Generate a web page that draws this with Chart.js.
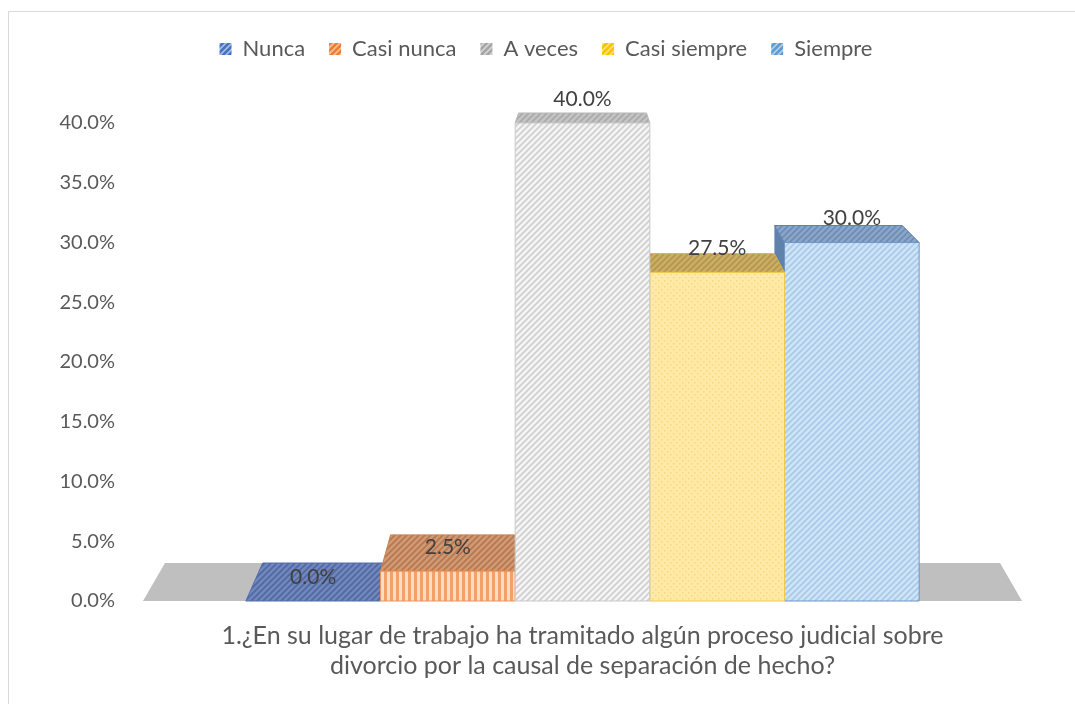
<!DOCTYPE html>
<html>
<head>
<meta charset="utf-8">
<script src="https://cdn.jsdelivr.net/npm/chart.js@4.4.1/dist/chart.umd.min.js"></script>
<style>
  html, body { margin: 0; padding: 0; background: #fff; overflow: hidden; }
  #wrap { position: relative; width: 1075px; height: 704px; }
  #frame { position: absolute; left: 8px; top: 11px; width: 1100px; height: 720px;
           border: 1px solid #d9d9d9; pointer-events: none; }
</style>
</head>
<body>
<div id="wrap">
  <canvas id="chart" width="1075" height="704"></canvas>
  <div id="frame"></div>
</div>
<script>
// Data
const categories = [[
  '1.¿En su lugar de trabajo ha tramitado algún proceso judicial sobre',
  'divorcio por la causal de separación de hecho?'
]];
const seriesNames = ['Nunca', 'Casi nunca', 'A veces', 'Casi siempre', 'Siempre'];
const seriesValues = [0.0, 2.5, 40.0, 27.5, 30.0];
const yTicks = [0, 5, 10, 15, 20, 25, 30, 35, 40];

// Styles (front / top / side / legend)
const frontStyle = [
  ['#7a93c6', '#4f6fae', 'diag'],
  ['#fbdcc6', '#f3a06a', 'vert'],
  ['#f4f4f4', '#cfcfcf', 'diag'],
  ['#ffe9a6', '#f7d97a', 'dots'],
  ['#cfe3f6', '#a8c9ea', 'diag']
];
const topStyle = [
  ['#7187bd', '#51689f', 'diag'],
  ['#d19a74', '#b5774f', 'diag'],
  ['#c4c4c4', '#a9a9a9', 'diag'],
  ['#c9ae6a', '#b59648', 'diag'],
  ['#8aa6c8', '#6d8cb3', 'diag']
];
const sideColors = ['#4f6fae', '#c9814f', '#b5b5b5', '#d9b240', '#5f82ad'];
const edgeColors = ['#4a67a3', '#e8955c', '#c9c9c9', '#f0c850', '#6f96c4'];
const legendColors = ['#4472c4', '#ed7d31', '#a5a5a5', '#ffc000', '#5b9bd5'];

const FONT = 'Lato';
const TEXT = '#595959';
const DEPTH = 38;   // floor depth in px
const KX = 0.05;    // horizontal perspective shrink
const KY = 0.0586;  // vertical perspective shrink

function makePattern(bg, fg, type) {
  const c = document.createElement('canvas');
  c.width = 6; c.height = 6;
  const g = c.getContext('2d');
  g.fillStyle = bg;
  g.fillRect(0, 0, 6, 6);
  g.strokeStyle = fg;
  g.fillStyle = fg;
  g.lineWidth = 1.6;
  if (type === 'diag') {
    g.beginPath();
    g.moveTo(-1, 7); g.lineTo(7, -1);
    g.moveTo(-1, 1); g.lineTo(1, -1);
    g.moveTo(5, 7); g.lineTo(7, 5);
    g.stroke();
  } else if (type === 'vert') {
    g.fillRect(0, 0, 3, 6);
  } else {
    g.fillRect(1, 1, 1.5, 1.5);
    g.fillRect(4, 4, 1.5, 1.5);
  }
  return g.createPattern(c, 'repeat');
}

const frontPatterns = frontStyle.map(s => makePattern(s[0], s[1], s[2]));
const topPatterns = topStyle.map(s => makePattern(s[0], s[1], s[2]));
const legendPatterns = legendColors.map(c => makePattern(c, '#ffffff88', 'diag'));

function poly(ctx, pts, fill, stroke) {
  ctx.beginPath();
  ctx.moveTo(pts[0][0], pts[0][1]);
  for (let i = 1; i < pts.length; i++) ctx.lineTo(pts[i][0], pts[i][1]);
  ctx.closePath();
  ctx.fillStyle = fill;
  ctx.fill();
  if (stroke) {
    ctx.strokeStyle = stroke;
    ctx.lineWidth = 1;
    ctx.stroke();
  }
}

// Draw 3D bars from the bar elements' positions
const bars3d = {
  id: 'bars3d',
  beforeDatasetsDraw(chart) {
    const ctx = chart.ctx;
    const area = chart.chartArea;
    const base = chart.scales.y.getPixelForValue(0);
    const vx = (area.left + area.right) / 2;
    const vy = base - DEPTH / KY;
    const back = (x, y) => [x + (vx - x) * KX, y + (vy - y) * KY];

    ctx.save();
    // floor
    poly(ctx, [[area.left, base], [area.right, base],
               back(area.right, base), back(area.left, base)], '#bfbfbf');

    const bars = chart.data.datasets.map((ds, i) => {
      const el = chart.getDatasetMeta(i).data[0];
      const p = el.getProps(['x', 'y', 'width'], true);
      return { i, x: p.x, y: p.y, xl: p.x - p.width / 2, xr: p.x + p.width / 2 };
    });
    const order = bars.slice().sort((a, b) => Math.abs(b.x - vx) - Math.abs(a.x - vx));

    order.forEach(b => {
      const i = b.i;
      // side face
      if (b.xr < vx) {
        poly(ctx, [[b.xr, b.y], back(b.xr, b.y), back(b.xr, base), [b.xr, base]], sideColors[i]);
      } else if (b.xl > vx) {
        poly(ctx, [[b.xl, b.y], back(b.xl, b.y), back(b.xl, base), [b.xl, base]], sideColors[i]);
      }
      // top face
      poly(ctx, [[b.xl, b.y], [b.xr, b.y], back(b.xr, b.y), back(b.xl, b.y)],
           topPatterns[i], sideColors[i]);
      // front face
      if (base - b.y > 0.5) {
        poly(ctx, [[b.xl, b.y], [b.xr, b.y], [b.xr, base], [b.xl, base]],
             frontPatterns[i], edgeColors[i]);
      }
    });

    // value labels
    ctx.font = '21px ' + FONT;
    ctx.fillStyle = '#404040';
    ctx.textAlign = 'center';
    ctx.textBaseline = 'middle';
    bars.forEach(b => {
      ctx.fillText(seriesValues[b.i].toFixed(1) + '%', b.x, b.y - 24);
    });
    ctx.restore();
    return false;
  }
};

// legend: fixed height and a small shift to the right
const legendSpace = {
  id: 'legendSpace',
  beforeInit(chart) {
    const legend = chart.legend;
    const fit = legend.fit;
    legend.fit = function () {
      fit.call(this);
      this.height = 109;
    };
    const draw = legend.draw;
    legend.draw = function () {
      chart.ctx.save();
      chart.ctx.translate(35, 0);
      draw.call(this);
      chart.ctx.restore();
    };
  }
};

const datasets = seriesNames.map((name, i) => ({
  label: name,
  data: [seriesValues[i]],
  backgroundColor: legendPatterns[i],
  borderColor: legendColors[i],
  borderWidth: 0
}));

new Chart(document.getElementById('chart'), {
  type: 'bar',
  data: { labels: categories, datasets: datasets },
  options: {
    responsive: false,
    animation: false,
    layout: { padding: { top: 14, right: 53, left: 0, bottom: 0 } },
    datasets: { bar: { categoryPercentage: 0.766, barPercentage: 1 } },
    plugins: {
      tooltip: { enabled: false },
      legend: {
        position: 'top',
        labels: {
          boxWidth: 12, boxHeight: 12, padding: 24,
          color: TEXT, font: { family: FONT, size: 22 }
        }
      }
    },
    scales: {
      x: {
        grid: { display: false, drawTicks: false },
        border: { display: false },
        ticks: {
          color: TEXT, padding: 20, maxRotation: 0,
          font: { family: FONT, size: 25, lineHeight: 1.2 }
        },
        afterFit(scale) { scale.height = 103; }
      },
      y: {
        min: 0, max: 40,
        grid: { display: false, drawTicks: false },
        border: { display: false },
        afterBuildTicks(scale) { scale.ticks = yTicks.map(v => ({ value: v })); },
        ticks: {
          color: TEXT, padding: 28,
          font: { family: FONT, size: 20 },
          callback: v => v.toFixed(1) + '%'
        },
        afterFit(scale) { scale.width = 143; }
      }
    }
  },
  plugins: [bars3d, legendSpace]
});
</script>
</body>
</html>
